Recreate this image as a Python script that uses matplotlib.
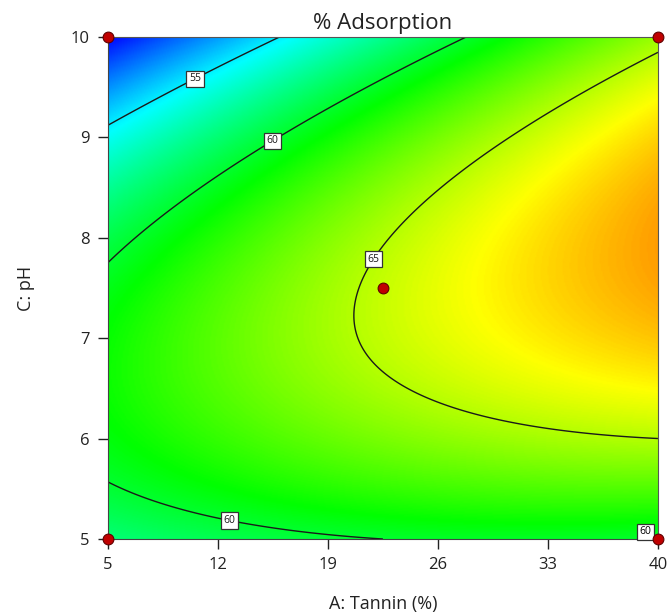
import numpy as np
import matplotlib.pyplot as plt
from matplotlib.colors import LinearSegmentedColormap

plt.rcParams['font.family'] = ['Open Sans', 'DejaVu Sans']

# quadratic model in coded units: a = (A - 22.5) / 17.5, c = (C - 7.5) / 2.5
coef_names = ["b0", "a", "c", "ac", "a2", "c2"]
coef_values = [65.36, 4.06, -1.07, 3.25, -0.80, -6.43]

# design points (A: Tannin %, C: pH)
design_A = [5, 5, 40, 40, 22.5]
design_C = [5, 10, 5, 10, 7.5]

contour_levels = [55, 60, 65]
label_pos = [(10.4, 9.63), (15.2, 9.04), (21.4, 7.84), (12.8, 5.25)]
corner_label_pos = (39.2, 5.07)

x_ticks = [5, 12, 19, 26, 33, 40]
y_ticks = [5, 6, 7, 8, 9, 10]

b = dict(zip(coef_names, coef_values))

A = np.linspace(5, 40, 400)
C = np.linspace(5, 10, 400)
AA, CC = np.meshgrid(A, C)
a = (AA - 22.5) / 17.5
c = (CC - 7.5) / 2.5
Y = (b["b0"] + b["a"] * a + b["c"] * c + b["ac"] * a * c
     + b["a2"] * a ** 2 + b["c2"] * c ** 2)

cmap = LinearSegmentedColormap.from_list(
    "de", ["#0000ff", "#00ffff", "#00ff00", "#ffff00", "#ff0000"])

fig, ax = plt.subplots(figsize=(6.7, 6.16), dpi=100)
fig.subplots_adjust(left=0.161, right=0.982, bottom=0.125, top=0.940)

ax.imshow(Y, extent=(5, 40, 5, 10), origin="lower", aspect="auto",
          cmap=cmap, vmin=49.7, vmax=72.3, interpolation="bilinear")
cs = ax.contour(AA, CC, Y, levels=contour_levels, colors="#1a1a1a", linewidths=1.0)
box = dict(boxstyle="square,pad=0.25", fc="white", ec="#333333", lw=0.9)
labels = ax.clabel(cs, fmt="%d", fontsize=7.5, inline=False, manual=label_pos)
for t in labels:
    t.set_rotation(0)
    t.set_bbox(box)
    t.set_zorder(4)
ax.text(*corner_label_pos, "%d" % contour_levels[1], fontsize=7.5, ha="center",
        va="center", bbox=box, zorder=4)

ax.scatter(design_A, design_C, s=60, color="#c00000", edgecolor="#600000",
           linewidth=0.8, zorder=5, clip_on=False)

ax.set_xlim(5, 40)
ax.set_ylim(5, 10)
ax.set_xticks(x_ticks)
ax.set_yticks(y_ticks)
ax.tick_params(direction="out", length=7, width=1, labelsize=12, colors="#222222", pad=6)
for side in ["left", "bottom"]:
    ax.spines[side].set_color("#444444")
for side in ["top", "right"]:
    ax.spines[side].set_color("#555555")
    ax.spines[side].set_linewidth(0.8)

ax.set_title("% Adsorption", fontsize=16, color="#222222", pad=6)
ax.set_xlabel("A: Tannin (%)", fontsize=13, color="#222222", labelpad=16)
ax.set_ylabel("C: pH", fontsize=13, color="#222222", labelpad=26)

fig.savefig("out.png")
